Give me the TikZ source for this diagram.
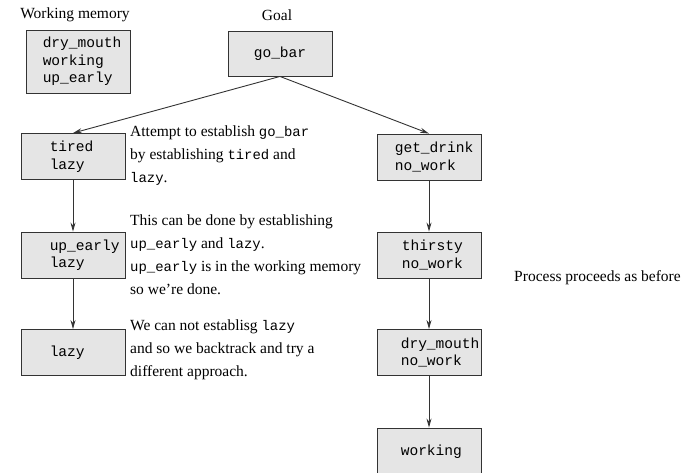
\documentclass[tikz,border=0pt]{standalone}
\usepackage{fontspec}
\setmainfont{Liberation Serif}
\setmonofont[Scale=0.9]{Liberation Mono}
\usetikzlibrary{arrows.meta,positioning}
\tikzset{
  cell/.style     = {draw=black!80,fill=gray!20,line width=0.9pt,minimum width=104pt,minimum height=46pt,inner sep=0pt},
  celltext/.style = {inner sep=0pt,align=left,font=\fontsize{16.2}{17.5}\selectfont\ttfamily},
  note/.style     = {inner sep=0pt,align=left,anchor=north west,font=\fontsize{15.5}{23}\selectfont},
  heading/.style  = {inner sep=0pt,font=\fontsize{15.5}{18}\selectfont},
  flow/.style     = {-{Stealth[length=9pt,width=5pt]},black!80,line width=0.9pt}
}

\begin{document}
\begin{tikzpicture}[x=1pt,y=-1pt]
  \useasboundingbox (0,0) rectangle (693,472);
  % headings
  \node[heading] (wmlabel)   at (75,15)  {Working memory};
  \node[heading] (goallabel) at (277,15) {Goal};
  % working memory and goal
  \node[cell,minimum height=63pt] (wm) at (78,61.5) {};
  \node[celltext,right=17pt of wm.west] (wmtxt) {dry\_mouth\\working\\up\_early};
  \node[cell,minimum height=45pt] (goal) at (280,53.5) {};
  \node[celltext] (goaltxt) at (goal) {go\_bar};
  % first attempt
  \node[cell] (tired)   at (73,156.5) {};
  \node[cell] (upearly) at (73,255)   {};
  \node[cell] (lazy)    at (73,352.5) {};
  \node[celltext,right=29pt of tired.west]   (tiredtxt)   {tired\\lazy};
  \node[celltext,right=29pt of upearly.west] (upearlytxt) {up\_early\\lazy};
  \node[celltext,right=29pt of lazy.west]    (lazytxt)    {lazy};
  % second attempt
  \node[cell] (getdrink) at (429,157)   {};
  \node[cell] (thirsty)  at (429,255)   {};
  \node[cell] (drymouth) at (429,352.5) {};
  \node[cell,minimum height=48pt] (working) at (429,452) {};
  \node[celltext,right=18pt of getdrink.west] (getdrinktxt) {get\_drink\\no\_work};
  \node[celltext,right=25pt of thirsty.west]  (thirstytxt)  {thirsty\\no\_work};
  \node[celltext,right=24pt of drymouth.west] (drymouthtxt) {dry\_mouth\\no\_work};
  \node[celltext,right=24pt of working.west]  (workingtxt)  {working};
  % connectors
  \draw[flow] (goal.south) -- (tired.north);
  \draw[flow] (goal.south) -- (getdrink.north);
  \draw[flow] (tired) -- (upearly);
  \draw[flow] (upearly) -- (lazy);
  \draw[flow] (getdrink) -- (thirsty);
  \draw[flow] (thirsty) -- (drymouth);
  \draw[flow] (drymouth) -- (working);
  % notes
  \node[note] (note1) at (130,125.5)
    {Attempt to establish \texttt{go\_bar}\\by establishing \texttt{tired} and\\\texttt{lazy}.};
  \node[note] (note2) at (130,214.5)
    {This can be done by establishing\\\texttt{up\_early} and \texttt{lazy}.\\\texttt{up\_early} is in the working memory\\so we're done.};
  \node[note] (note3) at (130,319.5)
    {We can not establisg \texttt{lazy}\\and so we backtrack and try a\\different approach.};
  \node[heading] (proceed) at (597.5,278) {Process proceeds as before};
\end{tikzpicture}
\end{document}
